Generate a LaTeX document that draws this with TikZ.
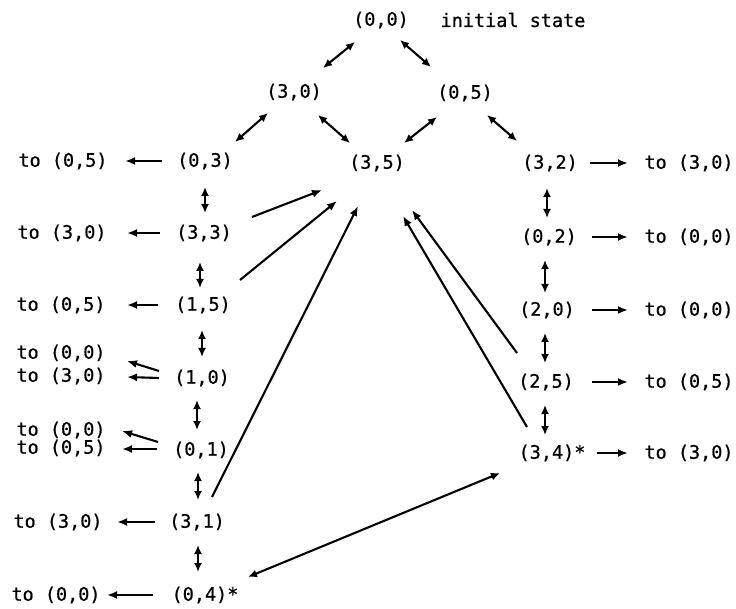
\documentclass[tikz,border=0pt]{standalone}
\usepackage{fontspec}
\setmonofont[FakeBold=0.8]{DejaVu Sans Mono}
\usetikzlibrary{arrows.meta}
\begin{document}
\begin{tikzpicture}[x=1pt,y=-1pt,
  st/.style={font=\ttfamily\fontsize{18.5}{22}\selectfont, inner sep=0pt, anchor=center},
  conn/.style={line width=2.1pt, -{Latex[length=10pt,width=8pt]}},
  dbl/.style={line width=2.1pt, {Latex[length=9pt,width=8pt]}-{Latex[length=9pt,width=8pt]}}]
\useasboundingbox (0,0) rectangle (736,609);
% top
\node[st] (n00) at (381,20) {(0,0)};
\node[st] (init) at (513,20) {initial state};
\node[st] (n30) at (294,92) {(3,0)};
\node[st] (n05) at (465,93) {(0,5)};
\node[st] (n35) at (377,163) {(3,5)};
% left column
\node[st] (n03) at (205,161) {(0,3)};
\node[st] (n33) at (204,233) {(3,3)};
\node[st] (n15) at (203,305) {(1,5)};
\node[st] (n10) at (202,378) {(1,0)};
\node[st] (n01) at (201,450) {(0,1)};
\node[st] (n31) at (197,522) {(3,1)};
\node[st] (n04) at (205,595) {(0,4)*};
% left labels
\node[st] (l1) at (63,161) {to (0,5)};
\node[st] (l2) at (62,233) {to (3,0)};
\node[st] (l3) at (61,305) {to (0,5)};
\node[st] (l4a) at (61,353) {to (0,0)};
\node[st] (l4b) at (61,376) {to (3,0)};
\node[st] (l5a) at (61,430) {to (0,0)};
\node[st] (l5b) at (61,448) {to (0,5)};
\node[st] (l6) at (58,522) {to (3,0)};
\node[st] (l7) at (56,595) {to (0,0)};
% right column
\node[st] (n32) at (550,163) {(3,2)};
\node[st] (n02) at (549,237) {(0,2)};
\node[st] (n20) at (547,310) {(2,0)};
\node[st] (n25) at (546,382) {(2,5)};
\node[st] (n34) at (552,453) {(3,4)*};
% right labels
\node[st] (r1) at (689,163) {to (3,0)};
\node[st] (r2) at (689,237) {to (0,0)};
\node[st] (r3) at (689,310) {to (0,0)};
\node[st] (r4) at (689,382) {to (0,5)};
\node[st] (r5) at (689,453) {to (3,0)};
% top double arrows
\draw[dbl] ([shift={(-26,22)}]n00.center) -- ([shift={(29,-24)}]n30.center);
\draw[dbl] ([shift={(19,20)}]n00.center) -- ([shift={(-34,-26)}]n05.center);
\draw[dbl] ([shift={(-26,21)}]n30.center) -- ([shift={(30,-19)}]n03.center);
\draw[dbl] ([shift={(24,23)}]n30.center) -- ([shift={(-27,-20)}]n35.center);
\draw[dbl] ([shift={(-28,24)}]n05.center) -- ([shift={(27,-20)}]n35.center);
\draw[dbl] ([shift={(22,22)}]n05.center) -- ([shift={(-33,-22)}]n32.center);
% left vertical double arrows
\draw[dbl] ([shift={(0,26)}]n03.center) -- ([shift={(1,-20)}]n33.center);
\draw[dbl] ([shift={(-4,29)}]n33.center) -- ([shift={(-3,-17)}]n15.center);
\draw[dbl] ([shift={(-1,25)}]n15.center) -- ([shift={(0,-21)}]n10.center);
\draw[dbl] ([shift={(-5,22)}]n10.center) -- ([shift={(-4,-20)}]n01.center);
\draw[dbl] ([shift={(-3,22)}]n01.center) -- ([shift={(1,-22)}]n31.center);
\draw[dbl] ([shift={(1,23)}]n31.center) -- ([shift={(-7,-23)}]n04.center);
% left horizontal arrows
\draw[conn] ([shift={(-43,0)}]n03.center) -- ([shift={(62,0)}]l1.center);
\draw[conn] ([shift={(-44,0)}]n33.center) -- ([shift={(65,0)}]l2.center);
\draw[conn] ([shift={(-45,0)}]n15.center) -- ([shift={(66,0)}]l3.center);
\draw[conn] ([shift={(-43,-7)}]n10.center) -- ([shift={(66,8)}]l4a.center);
\draw[conn] ([shift={(-43,0)}]n10.center) -- ([shift={(66,1)}]l4b.center);
\draw[conn] ([shift={(-43,-8)}]n01.center) -- ([shift={(61,1)}]l5a.center);
\draw[conn] ([shift={(-44,-1)}]n01.center) -- ([shift={(61,1)}]l5b.center);
\draw[conn] ([shift={(-42,0)}]n31.center) -- ([shift={(59,0)}]l6.center);
\draw[conn] ([shift={(-52,0)}]n04.center) -- ([shift={(51,0)}]l7.center);
% right vertical double arrows
\draw[dbl] ([shift={(-3,25)}]n32.center) -- ([shift={(-2,-19)}]n02.center);
\draw[dbl] ([shift={(-4,23)}]n02.center) -- ([shift={(-2,-17)}]n20.center);
\draw[dbl] ([shift={(-2,23)}]n20.center) -- ([shift={(-1,-19)}]n25.center);
\draw[dbl] ([shift={(-1,23)}]n25.center) -- ([shift={(-7,-18)}]n34.center);
% right horizontal arrows
\draw[conn] ([shift={(40,0)}]n32.center) -- ([shift={(-61,0)}]r1.center);
\draw[conn] ([shift={(43,0)}]n02.center) -- ([shift={(-61,0)}]r2.center);
\draw[conn] ([shift={(45,0)}]n20.center) -- ([shift={(-61,0)}]r3.center);
\draw[conn] ([shift={(46,0)}]n25.center) -- ([shift={(-61,0)}]r4.center);
\draw[conn] ([shift={(45,0)}]n34.center) -- ([shift={(-61,0)}]r5.center);
% diagonals to (3,5)
\draw[conn] ([shift={(48,-16)}]n33.center) -- ([shift={(-55,27)}]n35.center);
\draw[conn] ([shift={(37,-25)}]n15.center) -- ([shift={(-40,38)}]n35.center);
\draw[conn] ([shift={(15,-25)}]n31.center) -- ([shift={(-19,43)}]n35.center);
\draw[conn] ([shift={(-29,-29)}]n25.center) -- ([shift={(35,47)}]n35.center);
\draw[conn] ([shift={(-25,-26)}]n34.center) -- ([shift={(26,53)}]n35.center);
% (0,4)* <-> (3,4)*
\draw[dbl] ([shift={(43,-18)}]n04.center) -- ([shift={(-52,20)}]n34.center);
\end{tikzpicture}
\end{document}
